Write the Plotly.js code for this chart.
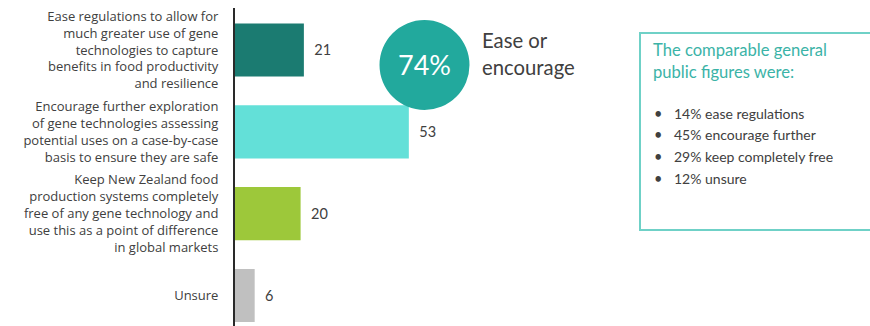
<!DOCTYPE html>
<html>
<head>
<meta charset="utf-8">
<script src="https://cdn.plot.ly/plotly-3.0.1.min.js"></script>
<style>
html,body{margin:0;padding:0;background:#fff;}
#chart{width:870px;height:326px;}
</style>
</head>
<body>
<div id="chart"></div>
<script>
// ---- data ----
const categories = [
  "Ease regulations to allow for<br>much greater use of gene<br>technologies to capture<br>benefits in food productivity<br>and resilience",
  "Encourage further exploration<br>of gene technologies assessing<br>potential uses on a case-by-case<br>basis to ensure they are safe",
  "Keep New Zealand food<br>production systems completely<br>free of any gene technology and<br>use this as a point of difference<br>in global markets",
  "Unsure"
];
const values = [21, 53, 20, 6];
const barColors = ["#1b7b71", "#63e0d8", "#9dc83a", "#c0c0c0"];
const combinedPct = "74%";
const combinedLabel = ["Ease or", "encourage"];
const boxTitle = ["The comparable general", "public figures were:"];
const publicFigures = ["14% ease regulations", "45% encourage further", "29% keep completely free", "12% unsure"];

// ---- layout helpers (pixel -> paper) ----
const L = 235, T = 8, W = 870, H = 326;
const PW = W - L, PH = H - T;
const px = x => (x - L) / PW;
const py = y => 1 - (y - T) / PH;

const FONT = "Lato, 'Open Sans', sans-serif";
const TICKFONT = "'Open Sans', Lato, sans-serif";
const TXT = "#404040";

const trace = {
  type: "bar",
  orientation: "h",
  y: [0, 1, 2, 3],
  x: values,
  width: 0.65,
  marker: {color: barColors},
  text: values.map(v => "  " + v),
  textposition: "outside",
  textfont: {family: FONT, size: 14.5, color: TXT},
  cliponaxis: false,
  hoverinfo: "skip"
};

const annotations = [];
annotations.push({
  xref: "paper", yref: "paper", x: px(424.5), y: py(65),
  text: combinedPct, showarrow: false,
  font: {family: FONT, size: 27, color: "#ffffff"},
  xanchor: "center", yanchor: "middle"
});
combinedLabel.forEach((t, i) => annotations.push({
  xref: "paper", yref: "paper", x: px(480), y: py(40 + i * 27),
  text: t, showarrow: false,
  font: {family: FONT, size: 20.3, color: TXT},
  xanchor: "left", yanchor: "middle"
}));
boxTitle.forEach((t, i) => annotations.push({
  xref: "paper", yref: "paper", x: px(651), y: py(50 + i * 22),
  text: t, showarrow: false,
  font: {family: FONT, size: 16.6, color: "#3bb3a7"},
  xanchor: "left", yanchor: "middle"
}));
publicFigures.forEach((t, i) => {
  annotations.push({
    xref: "paper", yref: "paper", x: px(652), y: py(113 + i * 21.7),
    text: "•", showarrow: false,
    font: {family: FONT, size: 14.5, color: TXT},
    xanchor: "left", yanchor: "middle"
  });
  annotations.push({
    xref: "paper", yref: "paper", x: px(672), y: py(113 + i * 21.7),
    text: t, showarrow: false,
    font: {family: FONT, size: 14, color: TXT},
    xanchor: "left", yanchor: "middle"
  });
});

const layout = {
  width: W, height: H,
  margin: {l: L, r: 0, t: T, b: 0, pad: 0},
  paper_bgcolor: "#ffffff",
  plot_bgcolor: "#ffffff",
  showlegend: false,
  bargap: 0.35,
  xaxis: {
    range: [0, PW / 3.28],
    visible: false,
    fixedrange: true
  },
  yaxis: {
    tickmode: "array",
    tickvals: [0, 1, 2, 3],
    ticktext: categories,
    range: [3.373, -0.513],
    showline: true, linecolor: "#2a2a2a", linewidth: 2,
    showgrid: false, zeroline: false,
    ticks: "", ticklabelstandoff: 12,
    tickfont: {family: TICKFONT, size: 13, color: TXT},
    fixedrange: true
  },
  shapes: [
    {
      type: "circle", xref: "paper", yref: "paper",
      xsizemode: "pixel", ysizemode: "pixel",
      xanchor: px(424.5), yanchor: py(65),
      x0: -45, x1: 45, y0: -45, y1: 45,
      fillcolor: "#22a99d", line: {width: 0}
    },
    {
      type: "rect", xref: "paper", yref: "paper",
      x0: px(640), x1: 1.02, y0: py(230), y1: py(33),
      line: {color: "#6fd1c7", width: 2}, fillcolor: "rgba(0,0,0,0)"
    }
  ],
  annotations: annotations
};

Plotly.newPlot("chart", [trace], layout, {displayModeBar: false, staticPlot: true});
</script>
</body>
</html>
